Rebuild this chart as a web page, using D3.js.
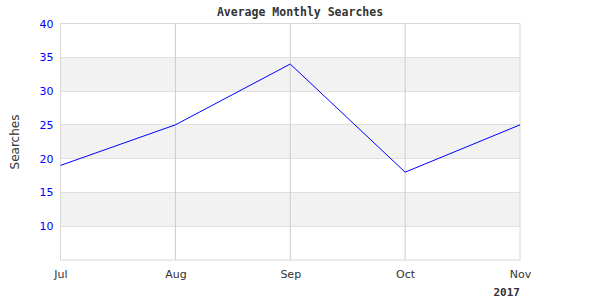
<!DOCTYPE html>
<html>
<head>
<meta charset="utf-8">
<script src="https://cdn.jsdelivr.net/npm/d3@7"></script>
<style>
  body { margin: 0; background: #fff; }
  svg { display: block; }
</style>
</head>
<body>
<svg width="600" height="300"></svg>
<script>
// chart data
const months = ["Jul", "Aug", "Sep", "Oct", "Nov"];
const searches = [19, 25, 34, 18, 25];
const yTicks = [10, 15, 20, 25, 30, 35, 40];
const bands = [[30, 35], [20, 25], [10, 15]];

const svg = d3.select("svg"),
    margin = {top: 23.5, right: 80, bottom: 40, left: 60.5},
    width = 600 - margin.left - margin.right,
    height = 300 - margin.top - margin.bottom,
    g = svg.append("g").attr("transform", "translate(" + margin.left + "," + margin.top + ")");

const xScale = d3.scalePoint()
    .domain(months)
    .range([0, width]);

const yScale = d3.scaleLinear()
    .domain([5, 40])
    .range([height, 0]);

// shaded bands
g.selectAll(".band")
    .data(bands)
    .enter()
    .append("rect")
    .attr("x", 0)
    .attr("width", width)
    .attr("y", d => yScale(d[1]))
    .attr("height", d => yScale(d[0]) - yScale(d[1]))
    .attr("fill", "#f2f2f2");

// horizontal grid
g.selectAll(".hgrid")
    .data(yTicks)
    .enter()
    .append("line")
    .attr("x1", 0).attr("x2", width)
    .attr("y1", d => Math.round(yScale(d)))
    .attr("y2", d => Math.round(yScale(d)))
    .attr("stroke", "#e0e0e0");

// vertical grid
g.selectAll(".vgrid")
    .data(months.slice(1, -1))
    .enter()
    .append("line")
    .attr("x1", d => xScale(d)).attr("x2", d => xScale(d))
    .attr("y1", 0).attr("y2", height)
    .attr("stroke", "#cccccc");

// frame
g.append("rect")
    .attr("width", width)
    .attr("height", height)
    .attr("fill", "none")
    .attr("stroke", "#d8d8d8");

// y axis labels
g.append("g")
    .call(d3.axisLeft(yScale).tickValues(yTicks).tickSize(0).tickPadding(7))
    .call(a => a.select(".domain").remove())
    .selectAll("text")
    .attr("fill", "#0000ff")
    .style("font-family", "DejaVu Sans, sans-serif")
    .style("font-size", "11px");

// x axis labels
g.append("g")
    .attr("transform", `translate(0, ${height})`)
    .call(d3.axisBottom(xScale).tickSize(0).tickPadding(10))
    .call(a => a.select(".domain").remove())
    .selectAll("text")
    .attr("fill", "#333")
    .style("font-family", "DejaVu Sans, sans-serif")
    .style("font-size", "11px");

// line
g.append("path")
    .datum(searches)
    .attr("fill", "none")
    .attr("stroke", "#0000ff")
    .attr("stroke-width", 1)
    .attr("d", d3.line()
        .x((d, i) => xScale(months[i]))
        .y(d => yScale(d)));

// title
svg.append("text")
    .attr("x", 300)
    .attr("y", 16)
    .attr("text-anchor", "middle")
    .style("font-family", "DejaVu Sans Mono, monospace")
    .style("font-weight", "bold")
    .style("font-size", "11.5px")
    .attr("fill", "#333")
    .text("Average Monthly Searches");

// y axis title
svg.append("text")
    .attr("transform", "translate(19,142) rotate(-90)")
    .attr("text-anchor", "middle")
    .style("font-family", "DejaVu Sans, sans-serif")
    .style("font-size", "12px")
    .attr("fill", "#333")
    .text("Searches");

// year label
svg.append("text")
    .attr("x", 520)
    .attr("y", 296)
    .attr("text-anchor", "end")
    .style("font-family", "DejaVu Sans Mono, monospace")
    .style("font-weight", "bold")
    .style("font-size", "11px")
    .attr("fill", "#333")
    .text("2017");
</script>
</body>
</html>
